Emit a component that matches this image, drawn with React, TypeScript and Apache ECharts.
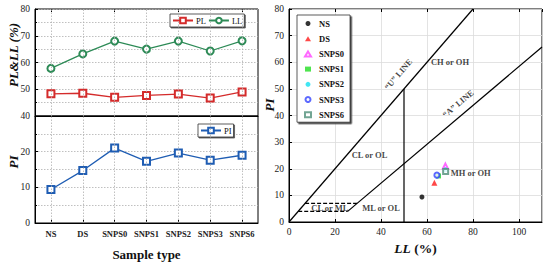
import React, { useEffect, useRef } from "react";
import * as echarts from "echarts";

const categories = ["NS", "DS", "SNPS0", "SNPS1", "SNPS2", "SNPS3", "SNPS6"];
const plValues = [48.3, 48.5, 47.0, 47.7, 48.2, 46.7, 49.0];
const llValues = [57.8, 63.2, 68.0, 65.0, 68.0, 64.3, 68.1];
const piValues = [9.4, 14.7, 21.0, 17.3, 19.6, 17.6, 19.0];

const uLine = [[0, 0], [80, 80]];
const aLine = [[25.5, 4], [110, 65.7]];
const llDivide = [[50, 0], [50, 50]];
const dash4 = [[4, 4], [25.5, 4]];
const dash7 = [[7, 7], [29.6, 7]];

const zoneLabels = [
  { name: "CH or OH", value: [70, 60], rotate: 0 },
  { name: "CL or OL", value: [35, 25], rotate: 0 },
  { name: "MH or OH", value: [79, 18.5], rotate: 0 },
  { name: "ML or OL", value: [40, 5.2], rotate: 0 },
  { name: "CL or ML", value: [17.8, 5.2], rotate: 0 },
  { name: "\u201CU\u201D LINE", value: [47.5, 55.5], rotate: 49 },
  { name: "\u201CA\u201D LINE", value: [73.5, 44.5], rotate: 40 },
];

const sampleStyles = [
  { symbol: "circle", color: "#000000", size: 5 },
  { symbol: "triangle", color: "#ff1a1a", size: 6 },
  { symbol: "emptyTriangle", color: "#ff44ff", size: 5 },
  { symbol: "rect", color: "#22dd22", size: 5 },
  { symbol: "circle", color: "#11e0f0", size: 5 },
  { symbol: "emptyCircle", color: "#3344ff", size: 5 },
  { symbol: "emptyRect", color: "#4f8f78", size: 5 },
];

const SERIF = "Liberation Serif";

export default function App() {
  const ref = useRef<HTMLDivElement>(null);
  useEffect(() => {
    if (!ref.current) return;
    const chart = echarts.init(ref.current, undefined, { renderer: "svg" });
    const tickLabel = { fontFamily: SERIF, fontSize: 9.5, color: "#222" };
    const dotted = { show: true, lineStyle: { color: "#b0b0b0", type: [1.5, 1.5] as any, width: 0.8 } };
    const vLines = {
      silent: true,
      symbol: "none",
      label: { show: false },
      lineStyle: { color: "#b0b0b0", type: [1.5, 1.5] as any, width: 0.8 },
      data: categories.map((c, i) => ({ xAxis: i })),
    };

    const option: any = {
      animation: false,
      backgroundColor: "#fff",
      textStyle: { fontFamily: SERIF },
      grid: [
        { left: 35, top: 9, width: 223, height: 107, show: true, borderColor: "#000", borderWidth: 1 },
        { left: 35, top: 116, width: 223, height: 107, show: true, borderColor: "#000", borderWidth: 1 },
        { left: 289, top: 9, width: 253, height: 213, show: true, borderColor: "#000", borderWidth: 1 },
      ],
      xAxis: [
        {
          type: "category", gridIndex: 0, data: categories, boundaryGap: true,
          axisLine: { lineStyle: { color: "#000" } },
          axisTick: { show: false }, axisLabel: { show: false }, splitLine: { show: false },
        },
        {
          type: "category", gridIndex: 1, data: categories, boundaryGap: true,
          axisLine: { lineStyle: { color: "#000" } },
          axisTick: { show: true, inside: true, alignWithLabel: true, length: 3, lineStyle: { color: "#000" } },
          axisLabel: { fontFamily: SERIF, fontSize: 8.5, fontWeight: "bold", color: "#222", margin: 6, interval: 0 },
          splitLine: { show: false },
          name: "Sample type", nameLocation: "middle", nameGap: 25,
          nameTextStyle: { fontFamily: SERIF, fontSize: 13, fontWeight: "bold", color: "#111" },
        },
        {
          type: "value", gridIndex: 2, min: 0, max: 110, interval: 20,
          axisLine: { lineStyle: { color: "#000" } },
          axisTick: { inside: true, length: 3, lineStyle: { color: "#000" } },
          axisLabel: { ...tickLabel, margin: 5, showMaxLabel: false },
          splitLine: { show: true, lineStyle: { color: "#dcdcdc", width: 0.8 } },
          name: "{i|LL} (%)", nameLocation: "middle", nameGap: 19,
          nameTextStyle: {
            fontFamily: SERIF, fontSize: 13.5, fontWeight: "bold", color: "#111",
            rich: { i: { fontFamily: SERIF, fontSize: 13.5, fontWeight: "bold", fontStyle: "italic", color: "#111" } },
          },
        },
        {
          type: "category", gridIndex: 0, data: categories, boundaryGap: true, position: "top",
          axisLine: { show: false },
          axisTick: { show: true, inside: true, alignWithLabel: true, length: 3, lineStyle: { color: "#000" } },
          axisLabel: { show: false }, splitLine: { show: false },
        },
        {
          type: "value", gridIndex: 2, min: 0, max: 110, interval: 20, position: "top",
          axisLine: { show: false },
          axisTick: { inside: true, length: 3, lineStyle: { color: "#000" } },
          axisLabel: { show: false }, splitLine: { show: false },
        },
      ],
      yAxis: [
        {
          type: "value", gridIndex: 0, min: 40, max: 80, interval: 10,
          axisLine: { show: true, lineStyle: { color: "#000" } },
          axisTick: { show: true, inside: true, length: 3, lineStyle: { color: "#000" } },
          minorTick: { show: true, splitNumber: 2, length: 2, lineStyle: { color: "#000" } },
          axisLabel: { ...tickLabel, margin: 5 },
          splitLine: dotted, minorSplitLine: dotted,
        },
        {
          type: "value", gridIndex: 1, min: 0, max: 30, interval: 10,
          axisLine: { show: true, lineStyle: { color: "#000" } },
          axisTick: { show: true, inside: true, length: 3, lineStyle: { color: "#000" } },
          minorTick: { show: true, splitNumber: 2, length: 2, lineStyle: { color: "#000" } },
          axisLabel: { ...tickLabel, margin: 5, showMaxLabel: false },
          splitLine: dotted, minorSplitLine: dotted,
        },
        {
          type: "value", gridIndex: 2, min: 0, max: 80, interval: 10,
          axisLine: { show: true, lineStyle: { color: "#000" } },
          axisTick: { show: true, inside: true, length: 3, lineStyle: { color: "#000" } },
          axisLabel: { ...tickLabel, margin: 5 },
          splitLine: { show: true, lineStyle: { color: "#dcdcdc", width: 0.8 } },
        },
      ],
      legend: [
        {
          data: ["PL", "LL"], left: 170, top: 14, orient: "horizontal",
          itemWidth: 20, itemHeight: 7, itemGap: 2, padding: [2, 2, 2, 2],
          borderColor: "#333", borderWidth: 0.8, backgroundColor: "#fff",
          shadowColor: "#555", shadowOffsetX: 1, shadowOffsetY: 1, shadowBlur: 0,
          textStyle: { fontFamily: SERIF, fontSize: 8.5, color: "#111", padding: [0, 0, 0, -2] },
        },
        {
          data: ["PI"], left: 198, top: 124, orient: "horizontal",
          itemWidth: 20, itemHeight: 7, itemGap: 2, padding: [2, 2, 2, 2],
          borderColor: "#333", borderWidth: 0.8, backgroundColor: "#fff",
          shadowColor: "#555", shadowOffsetX: 1, shadowOffsetY: 1, shadowBlur: 0,
          textStyle: { fontFamily: SERIF, fontSize: 8.5, color: "#111", padding: [0, 0, 0, -2] },
        },
        {
          data: categories, left: 297, top: 15, orient: "vertical",
          itemWidth: 6, itemHeight: 5, itemGap: 6.2, padding: [4, 6, 3, 7],
          borderColor: "#333", borderWidth: 0.8, backgroundColor: "#fff",
          shadowColor: "#444", shadowOffsetX: 1.5, shadowOffsetY: 1.5, shadowBlur: 0,
          textStyle: { fontFamily: SERIF, fontSize: 8.5, fontWeight: "bold", color: "#111", padding: [0, 0, 0, 3] },
        },
      ],
      graphic: [
        {
          type: "text", x: 13, y: 55, rotation: Math.PI / 2,
          style: {
            text: "PL&LL (%)", fontFamily: SERIF, fontSize: 13, fontWeight: "bold", fontStyle: "italic",
            fill: "#111", textAlign: "center", textVerticalAlign: "middle",
          },
        },
        {
          type: "text", x: 13, y: 162, rotation: Math.PI / 2,
          style: {
            text: "PI", fontFamily: SERIF, fontSize: 13, fontWeight: "bold", fontStyle: "italic",
            fill: "#111", textAlign: "center", textVerticalAlign: "middle",
          },
        },
        {
          type: "text", x: 269, y: 105, rotation: Math.PI / 2,
          style: {
            text: "PI", fontFamily: SERIF, fontSize: 13, fontWeight: "bold", fontStyle: "italic",
            fill: "#111", textAlign: "center", textVerticalAlign: "middle",
          },
        },
      ],
      series: [
        {
          name: "PL", type: "line", xAxisIndex: 0, yAxisIndex: 0, data: plValues,
          symbol: "emptyRect", symbolSize: 7, color: "#d42b2b",
          lineStyle: { width: 1.3, color: "#d42b2b" }, itemStyle: { color: "#d42b2b", borderWidth: 1.2 },
          markLine: vLines, z: 3,
        },
        {
          name: "LL", type: "line", xAxisIndex: 0, yAxisIndex: 0, data: llValues,
          symbol: "emptyCircle", symbolSize: 7, color: "#2e8b57",
          lineStyle: { width: 1.3, color: "#2e8b57" }, itemStyle: { color: "#2e8b57", borderWidth: 1.2 }, z: 3,
        },
        {
          name: "PI", type: "line", xAxisIndex: 1, yAxisIndex: 1, data: piValues,
          symbol: "emptyRect", symbolSize: 7, color: "#1f5db3",
          lineStyle: { width: 1.3, color: "#1f5db3" }, itemStyle: { color: "#1f5db3", borderWidth: 1.2 },
          markLine: vLines, z: 3,
        },
        ...[uLine, aLine, llDivide].map((d) => ({
          type: "line", xAxisIndex: 2, yAxisIndex: 2, data: d, showSymbol: false, silent: true,
          lineStyle: { color: "#000", width: 1.2 }, z: 2,
        })),
        ...[dash4, dash7].map((d) => ({
          type: "line", xAxisIndex: 2, yAxisIndex: 2, data: d, showSymbol: false, silent: true,
          lineStyle: { color: "#000", width: 1.2, type: [4, 2] }, z: 2,
        })),
        {
          type: "scatter", xAxisIndex: 2, yAxisIndex: 2, silent: true, symbolSize: 1,
          itemStyle: { color: "rgba(0,0,0,0)" },
          data: zoneLabels.map((z) => ({
            name: z.name, value: z.value,
            label: { rotate: z.rotate },
          })),
          label: {
            show: true, position: "inside", formatter: "{b}",
            fontFamily: SERIF, fontSize: 8.5, fontWeight: "bold", color: "#111",
          },
          z: 4,
        },
        ...categories.map((c, i) => ({
          name: c, type: "scatter", xAxisIndex: 2, yAxisIndex: 2,
          data: [[llValues[i], piValues[i]]],
          symbol: sampleStyles[i].symbol, symbolSize: sampleStyles[i].size,
          color: sampleStyles[i].color,
          itemStyle: { color: sampleStyles[i].color, borderWidth: 1 },
          z: 5,
        })),
      ],
    };
    chart.setOption(option);
    return () => chart.dispose();
  }, []);
  return (
    <div
      ref={ref}
      style={{ position: "fixed", left: 0, top: 0, width: 550, height: 263, background: "#fff" }}
    />
  );
}
